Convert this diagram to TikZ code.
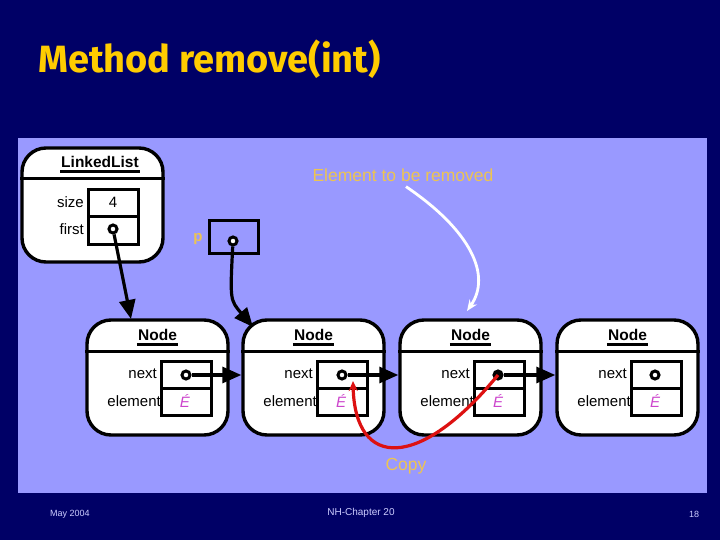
\documentclass[tikz,border=0pt]{standalone}
\usepackage{fontspec}
\setmainfont{Liberation Sans}
\newfontfamily\titlefont{Fira Sans}
\usetikzlibrary{arrows.meta}
\definecolor{navy}{RGB}{0,0,102}
\definecolor{panel}{RGB}{153,153,255}
\definecolor{gold}{RGB}{255,204,0}
\definecolor{ochre}{RGB}{236,196,82}
\definecolor{foot}{RGB}{204,204,255}
\definecolor{emag}{RGB}{204,68,204}
\definecolor{copyred}{RGB}{221,17,17}
\begin{document}
\begin{tikzpicture}[x=1pt,y=-1pt,
  objbox/.style={draw=black, fill=white, line width=3.4pt, rounded corners=24pt, minimum width=141pt, minimum height=115pt, inner sep=0pt},
  cellbox/.style={draw=black, line width=3pt, minimum width=50pt, minimum height=27pt, inner sep=0pt},
  hdr/.style={font=\fontsize{15.5}{18}\selectfont\bfseries, inner sep=1pt},
  fld/.style={font=\fontsize{15}{18}\selectfont, inner sep=0pt, anchor=east},
  val/.style={font=\fontsize{15}{18}\selectfont, inner sep=0pt},
  uline/.style={line width=3.2pt},
  sepline/.style={line width=3pt},
  ptr/.style={circle, draw=black, line width=3pt, fill=white, minimum size=8pt, inner sep=0pt},
  ptrfull/.style={ptr, fill=black},
  link/.style={line width=3.2pt, -{Triangle[length=19pt,width=16pt]}},
  lbl/.style={text=ochre, font=\fontsize{17.5}{20}\selectfont, inner sep=0pt},
  elem/.style={text=emag, font=\fontsize{15}{18}\selectfont\itshape, inner sep=0pt},
  foottext/.style={text=foot, font=\fontsize{10}{12}\selectfont, inner sep=0pt},
  removearrow/.style={draw=white, line width=2.8pt, -{Stealth[length=11pt,width=9pt]}},
  copyarrow/.style={draw=copyred, line width=3.2pt, -{Stealth[length=10pt,width=9pt]}},
]
% background and panel
\fill[navy] (0,0) rectangle (720,540);
\path[use as bounding box] (0,0) rectangle (720,540);
\fill[panel] (18,138) rectangle (707,493);

% title
\node[anchor=base west, text=gold, inner sep=0pt, font=\titlefont\bfseries\fontsize{38}{40}\selectfont] (title) at (38,73) {Method remove(int)};

% LinkedList object
\node[objbox, minimum height=114pt] (LL) at (92.5,205) {};
\draw[sepline] ([yshift=-32pt]LL.north west) -- ([yshift=-32pt]LL.north east);
\node[hdr] (llh) at (100,162) {LinkedList};
\draw[uline] ([yshift=-2.5pt]llh.south west) -- ([yshift=-2.5pt]llh.south east);
\node[cellbox] (sizecell) at (113,203.5) {};
\node[cellbox] (firstcell) at (113,230.5) {};
\node[fld] (sizelbl) at (84,202) {size};
\node[fld] (firstlbl) at (84,229) {first};
\node[val] (sizeval) at (113,202) {4};
\node[ptr] (cf) at (113,229) {};

% p reference
\node[cellbox, minimum width=49pt, minimum height=32pt] (pbox) at (233.5,237) {};
\node[text=ochre, font=\fontsize{15}{18}\selectfont\bfseries, inner sep=0pt] (plbl) at (198,239) {p};
\node[ptr] (cp) at (233,241) {};

% Node objects
\foreach \i/\L in {1/87,2/243,3/400,4/557} {
  \node[objbox] (N\i) at (\L+70.5,377.5) {};
  \draw[sepline] ([yshift=-33pt]N\i.north west) -- ([yshift=-33pt]N\i.north east);
  \node[hdr] (h\i) at (\L+70.5,335) {Node};
  \draw[uline] ([yshift=-3pt]h\i.south west) -- ([yshift=-3pt]h\i.south east);
  \node[cellbox] (nx\i) at (\L+99,375) {};
  \node[cellbox] (el\i) at (\L+99,402) {};
  \node[fld] (nl\i) at (\L+70,374) {next};
  \node[fld] (ellbl\i) at (\L+74,401) {element};
  \node[elem] (ev\i) at (\L+98,401) {É};
}
\node[ptr] (c1) at (186,375) {};
\node[ptr] (c2) at (342,375) {};
\node[ptrfull] (c3) at (498,375) {};
\node[ptr] (c4) at (655,375) {};

% links
\coordinate (n1in) at (131,319);
\coordinate (n2in) at (253,327);
\draw[link] (cf) -- (n1in);
\draw[link] (cp) .. controls (230,300) .. (n2in);
\draw[link] (c1) -- (c1 -| N2.west);
\draw[link] (c2) -- (c2 -| N3.west);
\draw[link] (c3) -- (c3 -| N4.west);

% element to be removed
\node[lbl] (rm) at (403,175) {Element to be removed};
\coordinate (rmend) at (467,311);
\draw[removearrow] ([xshift=3pt,yshift=-5pt]rm.south) .. controls (470,230) and (492,275) .. (rmend);

% copy
\coordinate (copyend) at (353,381);
\draw[copyarrow] (c3.center) .. controls (420,470) and (355,470) .. (copyend);
\node[lbl] (copy) at (406,466) {Copy};

% footer
\node[foottext, font=\fontsize{9}{11}\selectfont] (date) at (70,514) {May 2004};
\node[foottext] (chap) at (361,513) {NH-Chapter 20};
\node[foottext, font=\fontsize{9}{11}\selectfont] (pg) at (694,514) {18};
\end{tikzpicture}
\end{document}
